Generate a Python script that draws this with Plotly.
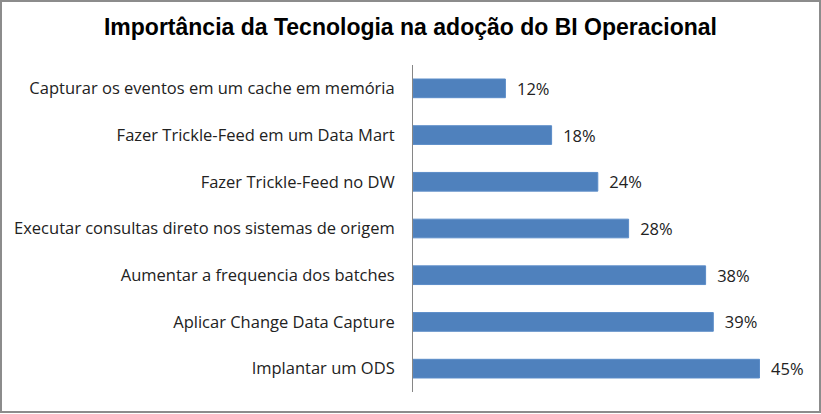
import plotly.graph_objects as go

categories = [
    "Implantar um ODS",
    "Aplicar Change Data Capture",
    "Aumentar a frequencia dos batches",
    "Executar consultas direto nos sistemas de origem",
    "Fazer Trickle-Feed no DW",
    "Fazer Trickle-Feed em um Data Mart",
    "Capturar os eventos em um cache em memória",
]
values = [45, 39, 38, 28, 24, 18, 12]
value_labels = ["\u00a0\u00a0" + f"{v}%" for v in values]

W, H = 821, 414
L, R, T, B = 413, 23, 65, 22
pw, ph = W - L - R, H - T - B

def px_x(x):
    return (x - L) / pw

def px_y(y):
    return (H - B - y) / ph

fig = go.Figure(go.Bar(
    y=categories, x=values, orientation="h",
    marker=dict(color="#4F81BD", line=dict(color="#5B8CC8", width=1)),
    text=value_labels, textposition="outside", constraintext="none",
    textfont=dict(family="Open Sans", size=16.5, color="#222222"),
    cliponaxis=False,
))

fig.update_layout(
    width=W, height=H,
    margin=dict(l=L, r=R, t=T, b=B),
    paper_bgcolor="white", plot_bgcolor="white",
    bargap=0.6,
    showlegend=False,
    title=dict(text="<b>Importância da Tecnologia na adoção do BI Operacional</b>",
               x=0.5, xref="container", xanchor="center", y=1 - 27 / H, yanchor="middle",
               font=dict(family="Liberation Sans", size=23, color="#000000")),
    xaxis=dict(range=[0, 50], showgrid=False, showticklabels=False, zeroline=False,
               showline=False, ticks=""),
    yaxis=dict(showgrid=False, showline=True, linecolor="#868686", linewidth=1,
               ticks="", ticklabelstandoff=14,
               tickfont=dict(family="Open Sans", size=16.5, color="#222222")),
    shapes=[dict(type="rect", xref="paper", yref="paper",
                 x0=px_x(1), x1=px_x(820), y0=px_y(412), y1=px_y(1),
                 line=dict(color="#8C8C8C", width=2), fillcolor="rgba(0,0,0,0)",
                 layer="above")],
)

fig.write_html(
    "out.html",
    config={"displayModeBar": False},
    post_script="document.body.style.margin='0';document.body.style.overflow='hidden';",
)
